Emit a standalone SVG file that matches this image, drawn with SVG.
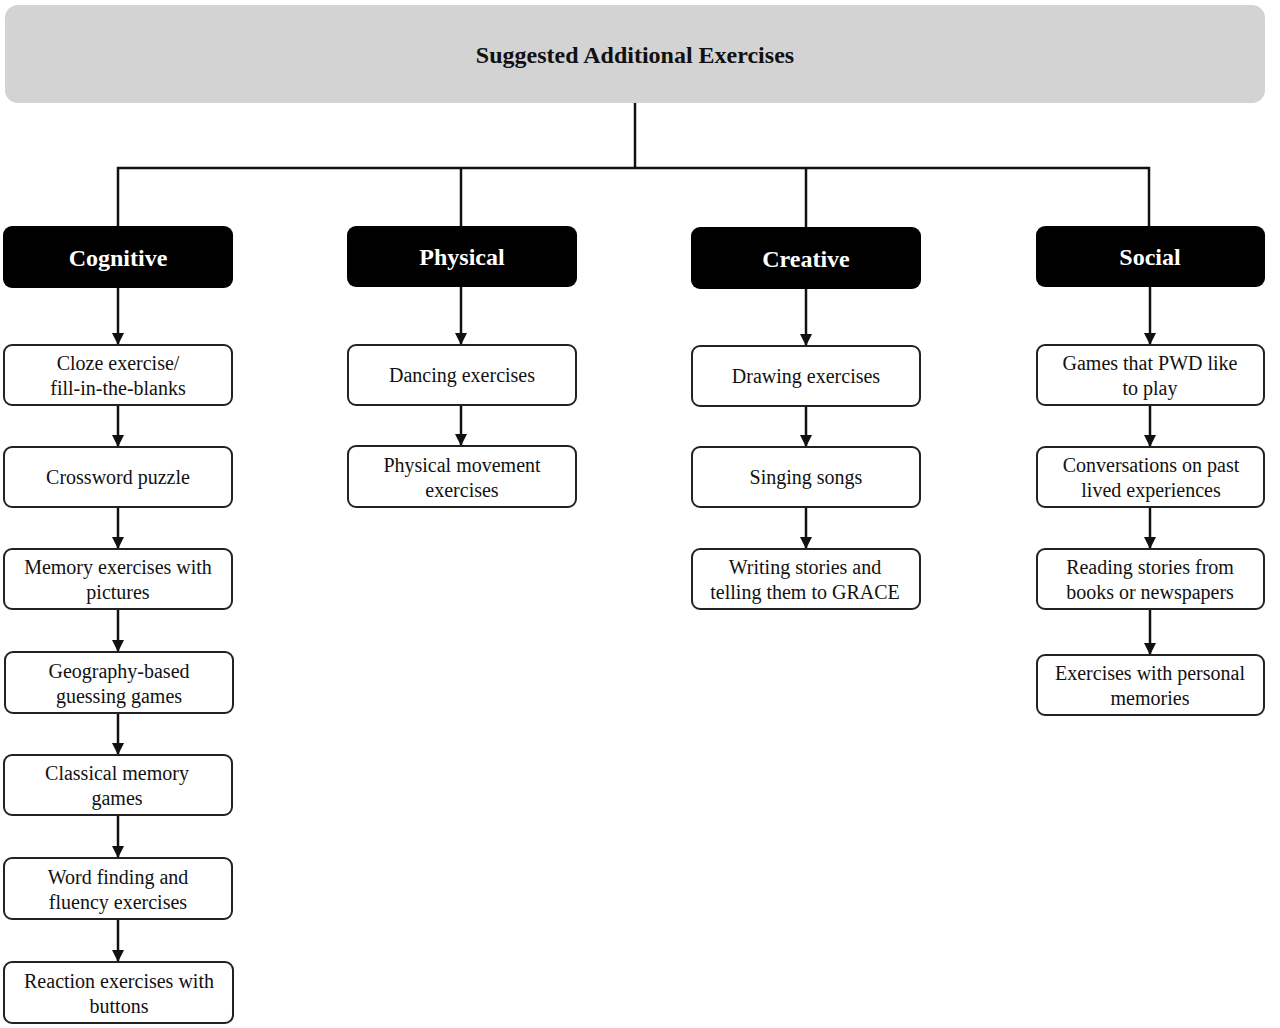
<svg xmlns="http://www.w3.org/2000/svg" width="1280" height="1028" viewBox="0 0 1280 1028">
<defs>
<marker id="ah" viewBox="0 0 10 10" refX="10" refY="5" markerWidth="5" markerHeight="5" markerUnits="strokeWidth" orient="auto">
<path d="M0,0 L10,5 L0,10 z" fill="#111"/>
</marker>
<style>
.hdr{fill:#d3d3d3;stroke:none}
.cat{fill:#000;stroke:none}
.box{fill:#fff;stroke:#222;stroke-width:2}
.t{font-family:"Liberation Serif","Times New Roman",serif;font-size:20px;fill:#111;text-anchor:middle}
.ct{font-family:"Liberation Serif","Times New Roman",serif;font-size:24px;font-weight:bold;fill:#fff;text-anchor:middle}
.ht{font-family:"Liberation Serif","Times New Roman",serif;font-size:24px;font-weight:bold;fill:#111;text-anchor:middle}
.ln{fill:none;stroke:#111;stroke-width:2.5}
.ar{fill:none;stroke:#111;stroke-width:2.5;marker-end:url(#ah)}
</style>
</defs>
<rect width="1280" height="1028" fill="#fff"/>
<g id="connectors">
<path class="ln" d="M635,103 V168 M118,226 V168 H1149 V226 M461,168 V226 M806,168 V227"/>
<path class="ar" d="M118,288 V345"/>
<path class="ar" d="M118,405 V447"/>
<path class="ar" d="M118,507 V549"/>
<path class="ar" d="M118,609 V652"/>
<path class="ar" d="M118,713 V755"/>
<path class="ar" d="M118,815 V858"/>
<path class="ar" d="M118,919 V962"/>
<path class="ar" d="M461,287 V345"/>
<path class="ar" d="M461,405 V446"/>
<path class="ar" d="M806,289 V346"/>
<path class="ar" d="M806,406 V447"/>
<path class="ar" d="M806,507 V549"/>
<path class="ar" d="M1150,287 V345"/>
<path class="ar" d="M1150,405 V447"/>
<path class="ar" d="M1150,507 V549"/>
<path class="ar" d="M1150,609 V655"/>
</g>
<g id="header">
<rect class="hdr" x="5" y="5" width="1260" height="98" rx="13"/>
<text class="ht" x="635" y="63">Suggested Additional Exercises</text>
</g>
<g id="cat-cognitive">
<rect class="cat" x="3" y="226" width="230" height="62" rx="9"/>
<text class="ct" x="118" y="266">Cognitive</text>
</g>
<g id="cat-physical">
<rect class="cat" x="347" y="226" width="230" height="61" rx="9"/>
<text class="ct" x="462" y="265">Physical</text>
</g>
<g id="cat-creative">
<rect class="cat" x="691" y="227" width="230" height="62" rx="9"/>
<text class="ct" x="806" y="267">Creative</text>
</g>
<g id="cat-social">
<rect class="cat" x="1036" y="226" width="229" height="61" rx="9"/>
<text class="ct" x="1150" y="265">Social</text>
</g>
<g id="cog1"><rect class="box" x="4" y="345" width="228" height="60" rx="8"/><text class="t" x="118" y="370">Cloze exercise/</text><text class="t" x="118" y="395">fill-in-the-blanks</text></g>
<g id="cog2"><rect class="box" x="4" y="447" width="228" height="60" rx="8"/><text class="t" x="118" y="484">Crossword puzzle</text></g>
<g id="cog3"><rect class="box" x="4" y="549" width="228" height="60" rx="8"/><text class="t" x="118" y="574">Memory exercises with</text><text class="t" x="118" y="599">pictures</text></g>
<g id="cog4"><rect class="box" x="5" y="652" width="228" height="61" rx="8"/><text class="t" x="119" y="678">Geography-based</text><text class="t" x="119" y="703">guessing games</text></g>
<g id="cog5"><rect class="box" x="4" y="755" width="228" height="60" rx="8"/><text class="t" x="117" y="780">Classical memory</text><text class="t" x="117" y="805">games</text></g>
<g id="cog6"><rect class="box" x="4" y="858" width="228" height="61" rx="8"/><text class="t" x="118" y="884">Word finding and</text><text class="t" x="118" y="909">fluency exercises</text></g>
<g id="cog7"><rect class="box" x="4" y="962" width="229" height="61" rx="8"/><text class="t" x="119" y="988">Reaction exercises with</text><text class="t" x="119" y="1013">buttons</text></g>
<g id="phy1"><rect class="box" x="348" y="345" width="228" height="60" rx="8"/><text class="t" x="462" y="382">Dancing exercises</text></g>
<g id="phy2"><rect class="box" x="348" y="446" width="228" height="61" rx="8"/><text class="t" x="462" y="472">Physical movement</text><text class="t" x="462" y="497">exercises</text></g>
<g id="cre1"><rect class="box" x="692" y="346" width="228" height="60" rx="8"/><text class="t" x="806" y="383">Drawing exercises</text></g>
<g id="cre2"><rect class="box" x="692" y="447" width="228" height="60" rx="8"/><text class="t" x="806" y="484">Singing songs</text></g>
<g id="cre3"><rect class="box" x="692" y="549" width="228" height="60" rx="8"/><text class="t" x="805" y="574">Writing stories and</text><text class="t" x="805" y="599">telling them to GRACE</text></g>
<g id="soc1"><rect class="box" x="1037" y="345" width="227" height="60" rx="8"/><text class="t" x="1150" y="370">Games that PWD like</text><text class="t" x="1150" y="395">to play</text></g>
<g id="soc2"><rect class="box" x="1037" y="447" width="227" height="60" rx="8"/><text class="t" x="1151" y="472">Conversations on past</text><text class="t" x="1151" y="497">lived experiences</text></g>
<g id="soc3"><rect class="box" x="1037" y="549" width="227" height="60" rx="8"/><text class="t" x="1150" y="574">Reading stories from</text><text class="t" x="1150" y="599">books or newspapers</text></g>
<g id="soc4"><rect class="box" x="1037" y="655" width="227" height="60" rx="8"/><text class="t" x="1150" y="680">Exercises with personal</text><text class="t" x="1150" y="705">memories</text></g>
</svg>
